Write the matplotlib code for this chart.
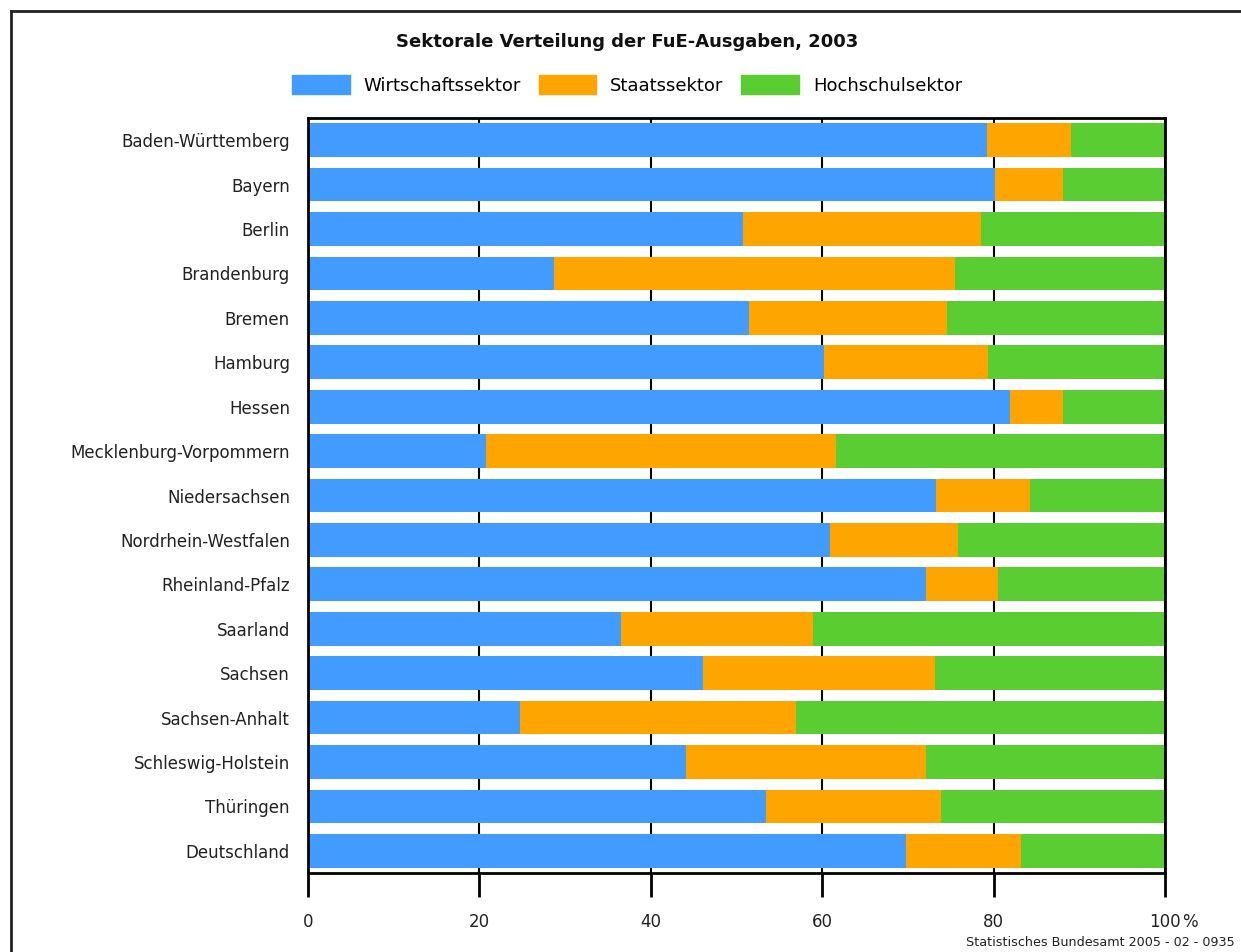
import matplotlib.pyplot as plt
import matplotlib.patches as mpatches
import matplotlib.lines as mlines
import numpy as np

laender = ['Baden-Württemberg', 'Bayern', 'Berlin', 'Brandenburg', 'Bremen',
           'Hamburg', 'Hessen', 'Mecklenburg-Vorpommern', 'Niedersachsen',
           'Nordrhein-Westfalen', 'Rheinland-Pfalz', 'Saarland', 'Sachsen',
           'Sachsen-Anhalt', 'Schleswig-Holstein', 'Thüringen', 'Deutschland']
wirtschaft = [79.2, 80.2, 50.8, 28.7, 51.5, 60.2, 81.9, 20.8, 73.3, 60.9,
              72.1, 36.5, 46.1, 24.7, 44.1, 53.4, 69.8]
staat = [9.8, 7.9, 27.7, 46.8, 23.1, 19.1, 6.2, 40.8, 10.9, 14.9,
         8.4, 22.4, 27.1, 32.2, 28.0, 20.5, 13.4]
hochschule = [100 - w - s for w, s in zip(wirtschaft, staat)]
sektoren = ['Wirtschaftssektor', 'Staatssektor', 'Hochschulsektor']
farben = ['#429BFF', '#FFA500', '#5ACD32']

plt.rcParams['font.family'] = ['DejaVu Sans']

fig = plt.figure(figsize=(12.41, 9.52), dpi=100)
ax = fig.add_axes([308 / 1241, 1 - 873 / 952, (1165 - 308) / 1241, (873 - 118) / 952])

y = np.arange(len(laender))
left = np.zeros(len(laender))
for werte, farbe in zip([wirtschaft, staat, hochschule], farben):
    ax.barh(y, werte, left=left, height=0.76, color=farbe, zorder=3)
    left += np.array(werte)

ax.set_xlim(0, 100)
ax.set_ylim(len(laender) - 0.5, -0.5)
ax.set_xticks([0, 20, 40, 60, 80, 100])
ax.set_xticklabels(['0', '20', '40', '60', '80', '100'], fontsize=12, color='#222222')
ax.annotate('%', xy=(100, 0), xycoords=('data', 'axes fraction'),
            xytext=(12, -29), textcoords='offset points', ha='left', va='top',
            fontsize=12, color='#222222')
ax.set_yticks(y)
ax.set_yticklabels(laender, fontsize=12, color='#222222')
ax.tick_params(axis='y', length=0, pad=13)
ax.tick_params(axis='x', length=17, width=2, pad=12, direction='out')
ax.grid(axis='x', color='black', linewidth=1.5, zorder=1)
for s in ax.spines.values():
    s.set_linewidth(2)
    s.set_zorder(4)

fig.text(627 / 1241, 1 - 42 / 952, 'Sektorale Verteilung der FuE-Ausgaben, 2003',
         ha='center', va='center', fontsize=13, fontweight='bold', color='#111111')

handles = [mpatches.Patch(color=f, label=s) for f, s in zip(farben, sektoren)]
fig.legend(handles=handles, loc='center', bbox_to_anchor=(627 / 1241, 1 - 85 / 952),
           ncol=3, frameon=False, fontsize=13, handlelength=3.2, handleheight=1.2,
           columnspacing=1.0, handletextpad=0.75)

fig.text(1 - 6 / 1241, 1 - 942 / 952, 'Statistisches Bundesamt 2005 - 02 - 0935',
         ha='right', va='center', fontsize=9.2, color='#222222')

# Rahmen oben und links
fig.add_artist(mlines.Line2D([11 / 1241, 1.0], [1 - 11 / 952, 1 - 11 / 952],
                             transform=fig.transFigure, color='#222222', linewidth=2))
fig.add_artist(mlines.Line2D([11 / 1241, 11 / 1241], [0.0, 1 - 11 / 952],
                             transform=fig.transFigure, color='#222222', linewidth=2))

fig.savefig('out.png', dpi=100)
